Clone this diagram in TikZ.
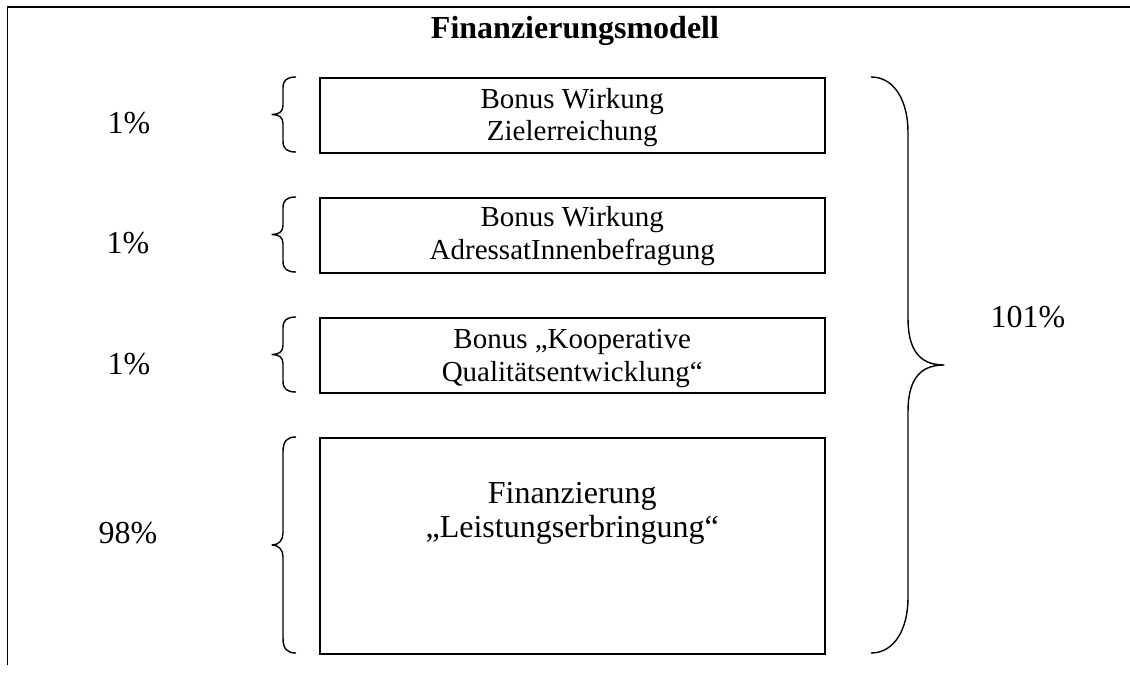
\documentclass[tikz,border=0pt]{standalone}
\usepackage{fontspec}
\setmainfont{Liberation Serif}
\begin{document}
\begin{tikzpicture}[x=1pt,y=-1pt,
  frameline/.style={line width=1.6pt},
  box/.style={draw, line width=1.5pt, rectangle, inner sep=0pt, anchor=north west},
  curl/.style={line width=1.4pt, line join=round},
  boxtext/.style={anchor=base, inner sep=0pt, font=\fontsize{29}{32}\selectfont},
  bigtext/.style={anchor=base, inner sep=0pt, font=\fontsize{32}{34}\selectfont},
  pct/.style={anchor=base, inner sep=0pt, font=\fontsize{32}{36}\selectfont}]
\useasboundingbox (0,0) rectangle (1130,675);
% frame
\coordinate (fb) at (7.5,665);
\coordinate (fc) at (7.5,7);
\coordinate (fr) at (1130,7);
\draw[frameline] (fb) -- (fc) -- (fr);
% title
\node[anchor=base, inner sep=0pt, font=\fontsize{32}{36}\selectfont\bfseries] (title) at (575,38) {Finanzierungsmodell};
% boxes
\node[box, minimum width=505pt, minimum height=75pt] (b1) at (319,77) {};
\node[box, minimum width=505pt, minimum height=75pt] (b2) at (319,197) {};
\node[box, minimum width=505pt, minimum height=75pt] (b3) at (319,317) {};
\node[box, minimum width=505pt, minimum height=216pt] (b4) at (319,437) {};
% box texts
\node[boxtext] (t1) at ([yshift=-31pt]b1.north) {\begin{tabular}[t]{@{}c@{}}Bonus Wirkung\\Zielerreichung\end{tabular}};
\node[boxtext] (t2) at ([yshift=-29pt]b2.north) {\fontsize{29}{33}\selectfont\begin{tabular}[t]{@{}c@{}}Bonus Wirkung\\AdressatInnenbefragung\end{tabular}};
\node[boxtext] (t3) at ([yshift=-31pt]b3.north) {\fontsize{29}{33}\selectfont\begin{tabular}[t]{@{}c@{}}Bonus „Kooperative\\Qualitätsentwicklung“\end{tabular}};
\node[bigtext] (t4) at ([yshift=-66pt]b4.north) {\begin{tabular}[t]{@{}c@{}}Finanzierung\\„Leistungserbringung“\end{tabular}};
% percentages
\node[pct] (p1) at (129,133) {1\%};
\node[pct] (p2) at (128,253) {1\%};
\node[pct] (p3) at (129,374) {1\%};
\node[pct] (p4) at (128,543) {98\%};
\node[pct] (p5) at (1028,327) {101\%};
% small left braces
\foreach \yt/\yb in {77/152, 197/272, 317/392} {
  \pgfmathsetmacro\ym{(\yt+\yb)/2}
  \draw[curl] (296,\yt) .. controls (287,\yt) and (283,\yt+3) .. (283,\yt+11)
    -- (283,\ym-9) .. controls (283,\ym-3) and (279,\ym) .. (272,\ym)
    .. controls (279,\ym) and (283,\ym+3) .. (283,\ym+9)
    -- (283,\yb-11) .. controls (283,\yb-3) and (287,\yb) .. (296,\yb);
}
% large left brace
\draw[curl] (296,437) .. controls (287,437) and (283,441) .. (283,452)
  -- (283,533) .. controls (283,540) and (279,545) .. (272,545)
  .. controls (279,545) and (283,550) .. (283,557)
  -- (283,638) .. controls (283,649) and (287,653) .. (296,653);
% big right brace
\draw[curl] (871,77) .. controls (895,77) and (908,102) .. (908,132)
  -- (908,318) .. controls (908,348) and (918,365) .. (944,365)
  .. controls (918,365) and (908,382) .. (908,412)
  -- (908,598) .. controls (908,628) and (895,653) .. (871,653);
\end{tikzpicture}
\end{document}
